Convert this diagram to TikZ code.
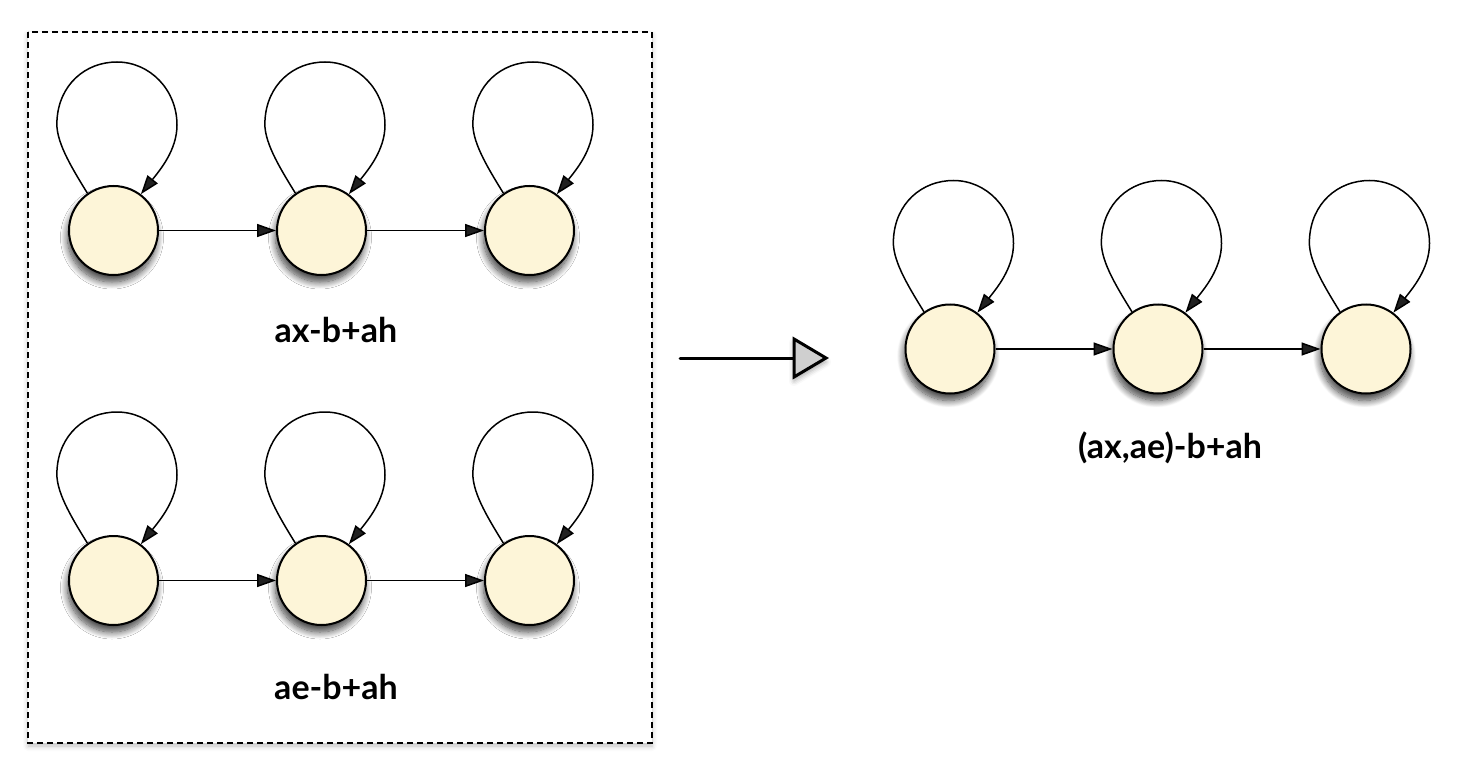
\documentclass[tikz,border=0pt]{standalone}
\usepackage{fontspec}
\setmainfont{Lato}
\usetikzlibrary{arrows.meta,shadows.blur}
\definecolor{nodefill}{HTML}{FDF5D8}
\definecolor{headfill}{HTML}{CFCFCF}
\tikzset{
  state/.style={circle,draw=black,line width=2pt,fill=nodefill,minimum size=89pt,inner sep=0pt,
    blur shadow={shadow xshift=-1.5pt,shadow yshift=-7pt,shadow blur radius=7pt,shadow opacity=75,shadow blur steps=12}},
  edge/.style={line width=1.5pt,-{Triangle[length=19pt,width=13pt]}},
  loopedge/.style={line width=1.5pt,-{Triangle[length=19pt,width=13pt]}},
  lbl/.style={font=\bfseries\fontsize{34}{38}\selectfont,inner sep=0pt},
}
\newcommand{\selfloop}[1]{%
  \draw[loopedge,shift={(#1.center)}] (#1.125) .. controls (-43.5,-65.5) and (-58.5,-90.5) .. (-56.5,-110.5)
    .. controls (-54.5,-145.5) and (-28.5,-168.5) .. (3.5,-168.5)
    .. controls (36.5,-168.5) and (63.5,-140.5) .. (63.5,-105.5)
    .. controls (63.5,-80.5) and (46.5,-60.5) .. (#1.53);}
\begin{document}
\begin{tikzpicture}[x=1pt,y=-1pt]
\useasboundingbox (0,0) rectangle (1464,778);
% dashed frame
\draw[line width=1.1pt,dash pattern=on 6pt off 4pt,fill=white,
  blur shadow={shadow xshift=0pt,shadow yshift=-3pt,shadow blur radius=5pt,shadow opacity=25}]
  (28,32) rectangle (652,743);
% top row
\node[state] (a1) at (113.5,230.5) {};
\node[state] (a2) at (321.5,230.5) {};
\node[state] (a3) at (529.5,230.5) {};
% bottom row
\node[state] (b1) at (113.5,580.5) {};
\node[state] (b2) at (321.5,580.5) {};
\node[state] (b3) at (529.5,580.5) {};
% right row
\node[state] (c1) at (950,349) {};
\node[state] (c2) at (1158,349) {};
\node[state] (c3) at (1366,349) {};
\foreach \n in {a1,a2,a3,b1,b2,b3,c1,c2,c3}{\selfloop{\n}}
\draw[edge] (a1) -- (a2);
\draw[edge] (a2) -- (a3);
\draw[edge] (b1) -- (b2);
\draw[edge] (b2) -- (b3);
\draw[edge] (c1) -- (c2);
\draw[edge] (c2) -- (c3);
\node[lbl] (la) at (336,330) {ax-b+ah};
\node[lbl] (lb) at (336,687) {ae-b+ah};
\node[lbl] (lc) at (1170,448) {(ax,ae)-b+ah};
% big arrow
\coordinate (bs) at (680,358);
\coordinate (be) at (794,358);
\draw[line width=3pt,line cap=round] (bs) -- (be);
\draw[line width=3pt,line join=miter,fill=headfill,
  blur shadow={shadow xshift=0pt,shadow yshift=-4pt,shadow blur radius=5pt,shadow opacity=35}]
  (be) ++(0,-19) -- ++(32,19) -- ++(-32,19) -- cycle;
\end{tikzpicture}
\end{document}
